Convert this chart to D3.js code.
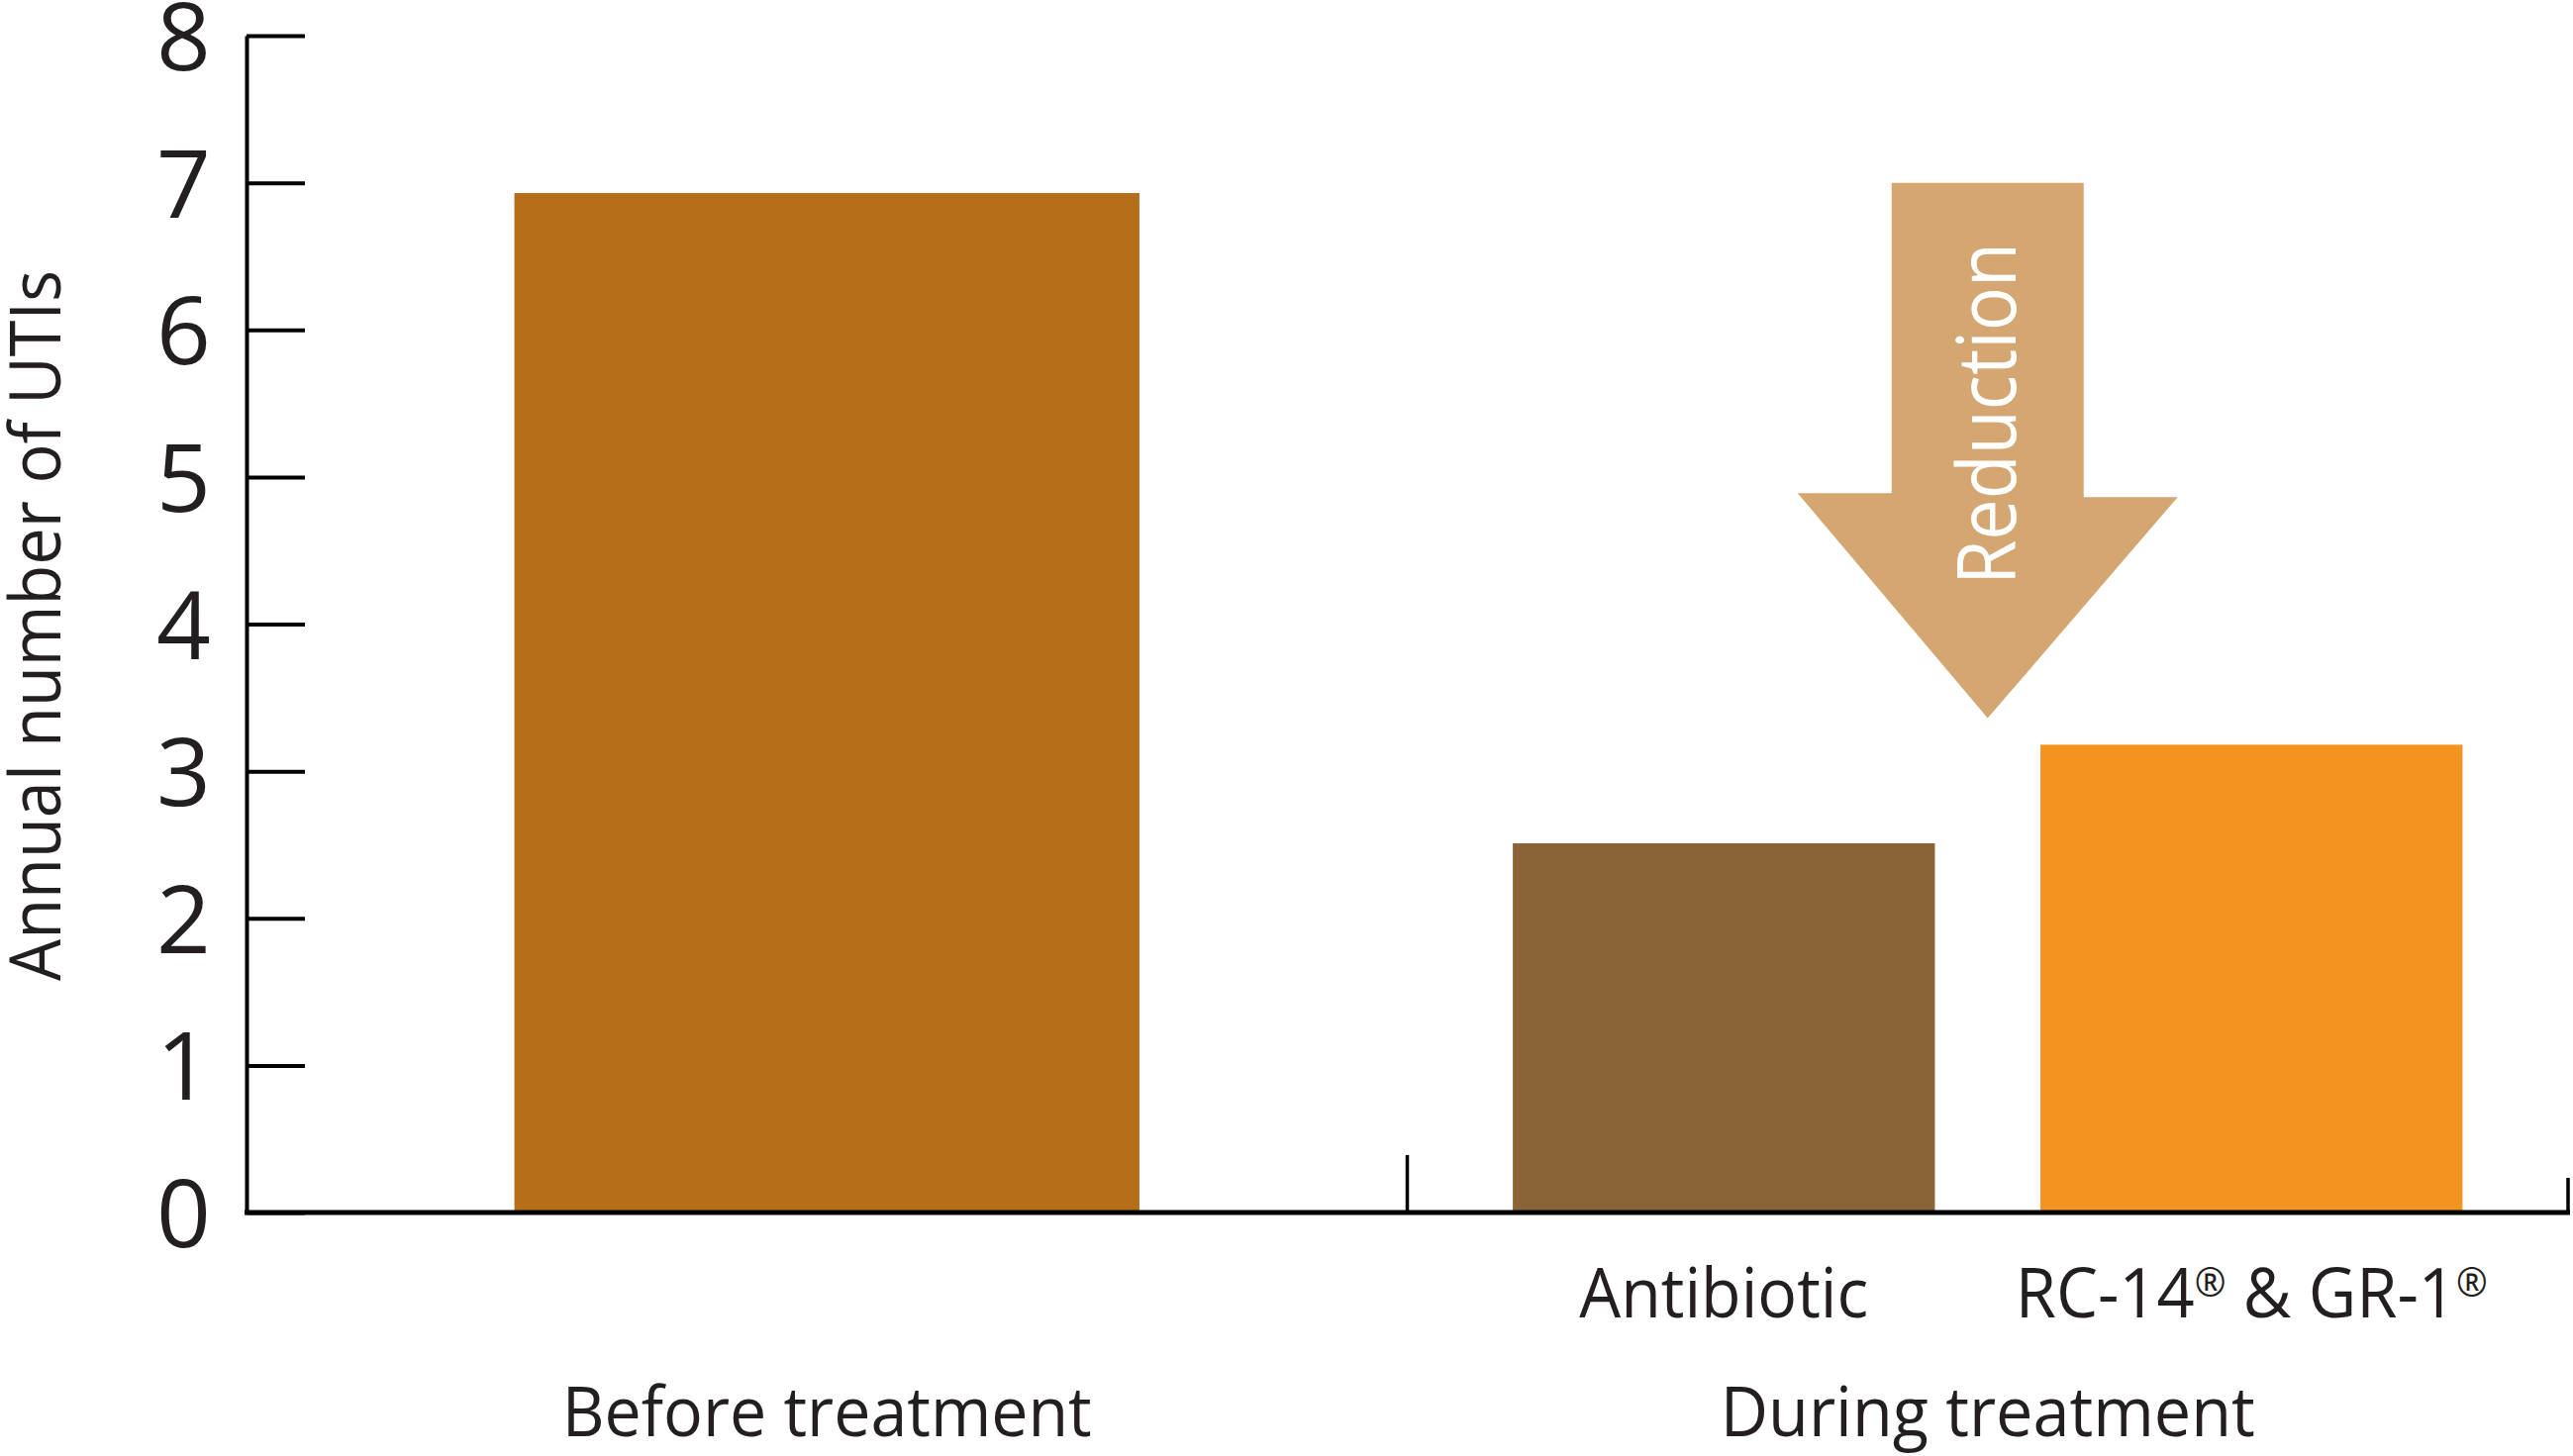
<!DOCTYPE html>
<html lang="en">
<head>
<meta charset="UTF-8">
<script src="https://d3js.org/d3.v7.min.js"></script>
<title>Annual number of UTIs</title>
<style>
  body { margin: 0; background: #fff; }
  text { font-family: "Open Sans", sans-serif; fill: #231F20; }
</style>
</head>
<body>
<script>
    // data
    let groups = ["Before treatment", "During treatment"];
    let barNames = ["Before", "Antibiotic", "RC-14"];
    let barGroups = ["Before treatment", "During treatment", "During treatment"];
    let barLabels = ["", "Antibiotic", "RC-14\u00AE & GR-1\u00AE"];
    let values = [6.93, 2.51, 3.18];
    let colors = ["#B76E19", "#8A6437", "#F39320"];
    let yTicks = [0, 1, 2, 3, 4, 5, 6, 7, 8];
    let yTitle = "Annual number of UTIs";
    let arrowText = "Reduction";
    // arrow annotation in data units (top, head base, tip)
    let arrowLevels = [7.0, 4.85, 3.36];

    let width = 2599, height = 1471;
    let plotLeft = 249, plotRight = 2594, plotTop = 36, plotBottom = 1225;

    let svg = d3.select("body").append("svg")
        .attr("width", width)
        .attr("height", height);

    let y = d3.scaleLinear().domain([0, 8]).range([plotBottom, plotTop]);

    let xGroup = d3.scaleBand().domain(groups).range([plotLeft, plotRight]).padding(0);

    // inner scales per group
    let inner = {};
    groups.forEach(g => {
        let names = barNames.filter((n, i) => barGroups[i] == g);
        let sc = d3.scaleBand()
            .domain(names)
            .range([xGroup(g), xGroup(g) + xGroup.bandwidth()]);
        if (names.length == 1) sc.padding(0.3);
        else sc.paddingInner(0.2).paddingOuter(0.2);
        inner[g] = sc;
    });

    // bars
    let bars = barNames.map((n, i) => ({ name: n, group: barGroups[i], value: values[i], color: colors[i], label: barLabels[i] }));

    svg.selectAll("rect.bar")
        .data(bars)
        .join("rect")
        .attr("class", "bar")
        .attr("x", d => inner[d.group](d.name))
        .attr("width", d => inner[d.group].bandwidth())
        .attr("y", d => y(d.value))
        .attr("height", d => y(0) - y(d.value))
        .attr("fill", d => d.color);

    // y axis, ticks pointing inward
    let yAxis = d3.axisLeft(y)
        .tickValues(yTicks)
        .tickSizeInner(-59)
        .tickSizeOuter(0)
        .tickPadding(36);

    let gy = svg.append("g")
        .attr("transform", "translate(" + plotLeft + ",0)")
        .call(yAxis);
    gy.select(".domain").attr("stroke", "#000").attr("stroke-width", 4);
    gy.selectAll(".tick line").attr("stroke", "#000").attr("stroke-width", 4);
    gy.selectAll(".tick text")
        .attr("font-size", 96)
        .attr("font-family", "Open Sans, sans-serif")
        .attr("fill", "#231F20")
        .attr("dy", "0.36em");

    // x axis baseline
    svg.append("line")
        .attr("x1", plotLeft - 2).attr("x2", plotRight + 2)
        .attr("y1", y(0)).attr("y2", y(0))
        .attr("stroke", "#000").attr("stroke-width", 5);

    // group divider + end tick
    svg.append("line")
        .attr("x1", xGroup(groups[1])).attr("x2", xGroup(groups[1]))
        .attr("y1", y(0) - 58).attr("y2", y(0))
        .attr("stroke", "#000").attr("stroke-width", 3.5);
    svg.append("line")
        .attr("x1", plotRight).attr("x2", plotRight)
        .attr("y1", y(0) - 35).attr("y2", y(0))
        .attr("stroke", "#000").attr("stroke-width", 3.5);

    // writes text, putting the ® sign up as a small superscript
    function writeLabel(sel, str) {
        let parts = str.split("\u00AE");
        parts.forEach((p, i) => {
            if (p != "") sel.append("tspan").attr("dy", i > 0 ? 21 : 0).text(p);
            if (i < parts.length - 1) {
                sel.append("tspan")
                    .attr("font-size", 40)
                    .attr("dy", i > 0 && p == "" ? 0 : -21)
                    .text("\u00AE");
            }
        });
    }

    // bar labels
    let labelWidths = { "Antibiotic": 292, "RC-14\u00AE & GR-1\u00AE": 477 };
    svg.selectAll("text.barlabel")
        .data(bars.filter(d => d.label != ""))
        .join("text")
        .attr("class", "barlabel")
        .attr("x", d => inner[d.group](d.name) + inner[d.group].bandwidth() / 2)
        .attr("y", 1331)
        .attr("text-anchor", "middle")
        .attr("font-size", 70)
        .attr("textLength", d => labelWidths[d.label])
        .attr("lengthAdjust", "spacingAndGlyphs")
        .each(function (d) { writeLabel(d3.select(this), d.label); });

    // group labels
    let groupWidths = [535, 540];
    svg.selectAll("text.grouplabel")
        .data(groups)
        .join("text")
        .attr("class", "grouplabel")
        .attr("x", g => {
            let sc = inner[g];
            let d = sc.domain();
            return (sc(d[0]) + sc(d[d.length - 1]) + sc.bandwidth()) / 2;
        })
        .attr("y", 1451)
        .attr("text-anchor", "middle")
        .attr("font-size", 70)
        .attr("textLength", (g, i) => groupWidths[i])
        .attr("lengthAdjust", "spacingAndGlyphs")
        .text(g => g);

    // y title
    svg.append("text")
        .attr("transform", "translate(61," + 632 + ") rotate(-90)")
        .attr("text-anchor", "middle")
        .attr("font-size", 71)
        .attr("textLength", 718)
        .attr("lengthAdjust", "spacingAndGlyphs")
        .text(yTitle);

    // reduction arrow
    let cx = xGroup(groups[1]) + xGroup.bandwidth() / 2;
    let shaftHalf = 97, headHalf = 192;
    let arrowPts = [
        [cx - shaftHalf, y(arrowLevels[0])],
        [cx + shaftHalf, y(arrowLevels[0])],
        [cx + shaftHalf, y(arrowLevels[1]) - 2],
        [cx + headHalf, y(arrowLevels[1]) - 2],
        [cx, y(arrowLevels[2])],
        [cx - headHalf, y(arrowLevels[1]) - 6],
        [cx - shaftHalf, y(arrowLevels[1]) - 6]
    ];
    svg.append("path")
        .attr("d", d3.line()(arrowPts) + "Z")
        .attr("fill", "#D4A772");

    svg.append("text")
        .attr("transform", "translate(" + (cx + 28) + "," + 418 + ") rotate(-90)")
        .attr("text-anchor", "middle")
        .attr("font-size", 82)
        .attr("textLength", 346)
        .attr("lengthAdjust", "spacingAndGlyphs")
        .style("fill", "#fff")
        .text(arrowText);
</script>
</body>
</html>
